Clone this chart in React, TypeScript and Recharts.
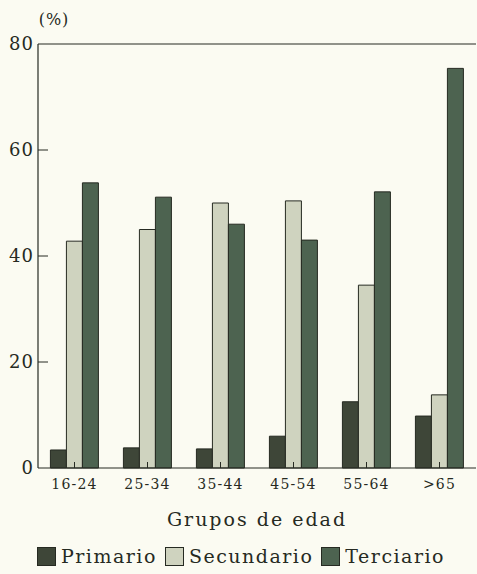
import {
  BarChart,
  Bar,
  XAxis,
  YAxis,
  Legend,
  ReferenceLine,
} from "recharts";

const CATEGORIES = ["16-24", "25-34", "35-44", "45-54", "55-64", ">65"];
const PRIMARIO = [3.4, 3.8, 3.6, 6.0, 12.5, 9.8];
const SECUNDARIO = [42.8, 45.0, 50.0, 50.4, 34.5, 13.8];
const TERCIARIO = [53.8, 51.1, 46.0, 43.0, 52.1, 75.4];
const Y_TICKS = [0, 20, 40, 60, 80];

const SERIES = [
  { key: "primario", name: "Primario", color: "#3e4638" },
  { key: "secundario", name: "Secundario", color: "#cfd3bf" },
  { key: "terciario", name: "Terciario", color: "#4d6350" },
];

const data = CATEGORIES.map((group, i) => ({
  group,
  primario: PRIMARIO[i],
  secundario: SECUNDARIO[i],
  terciario: TERCIARIO[i],
}));

const INK = "#262a22";
const FONT = "'DejaVu Serif', 'Liberation Serif', serif";

function YTick(props: any) {
  const { x, y, payload } = props;
  return (
    <g>
      {payload.value !== 0 && payload.value !== 80 && (
        <line x1={x} y1={y} x2={x + 10} y2={y} stroke={INK} strokeWidth={1} />
      )}
      <text
        x={x - 4}
        y={y}
        dy={6}
        textAnchor="end"
        fill={INK}
        fontSize={18}
        fontFamily={FONT}
        letterSpacing={1}
      >
        {payload.value}
      </text>
    </g>
  );
}

function XTick(props: any) {
  const { x, y, payload } = props;
  return (
    <g>
      <line x1={x} y1={y} x2={x} y2={y - 6} stroke={INK} strokeWidth={1} />
      <text
        x={x}
        y={y + 21}
        textAnchor="middle"
        fill={INK}
        fontSize={14}
        fontFamily={FONT}
        letterSpacing={1.2}
      >
        {payload.value}
      </text>
    </g>
  );
}

function LegendContent() {
  return (
    <div
      style={{
        display: "flex",
        alignItems: "center",
        paddingLeft: 37,
        paddingTop: 7,
        fontFamily: FONT,
        fontSize: 19,
        letterSpacing: 1.5,
        color: INK,
      }}
    >
      {SERIES.map((s) => (
        <span
          key={s.key}
          style={{ display: "flex", alignItems: "center", marginRight: 8 }}
        >
          <span
            style={{
              display: "inline-block",
              width: 17,
              height: 17,
              background: s.color,
              border: `1px solid ${INK}`,
              marginRight: 5,
            }}
          />
          {s.name}
        </span>
      ))}
    </div>
  );
}

export default function App() {
  return (
    <div
      style={{
        position: "absolute",
        left: 0,
        top: 0,
        width: 477,
        height: 574,
        background: "#fbfbf2",
      }}
    >
      <BarChart
        width={477}
        height={574}
        data={data}
        margin={{ top: 44, right: 1, bottom: 0, left: 0 }}
        barCategoryGap="17%"
        barGap={0}
      >
        <XAxis
          dataKey="group"
          height={70}
          tickSize={0}
          tickMargin={0}
          tick={<XTick />}
          axisLine={{ stroke: INK, strokeWidth: 1.2 }}
          tickLine={false}
          label={{
            value: "Grupos de edad",
            position: "insideBottom",
            offset: 12,
            fill: INK,
            fontSize: 19,
            fontFamily: FONT,
            letterSpacing: 2,
          }}
        />
        <YAxis
          width={38}
          domain={[0, 80]}
          ticks={Y_TICKS}
          tickSize={0}
          tickMargin={0}
          tick={<YTick />}
          axisLine={{ stroke: INK, strokeWidth: 1.2 }}
          tickLine={false}
          label={(p: any) => {
            const vb = p.viewBox;
            return (
              <text
                x={vb.x + vb.width + 16}
                y={vb.y - 19}
                textAnchor="middle"
                fill={INK}
                style={{ fontSize: 16, fontFamily: FONT, letterSpacing: 1 }}
              >
                (%)
              </text>
            );
          }}
        />
        <ReferenceLine y={80} stroke={INK} strokeWidth={1.2} />
        {SERIES.map((s) => (
          <Bar
            key={s.key}
            dataKey={s.key}
            name={s.name}
            fill={s.color}
            stroke={INK}
            strokeWidth={1}
            isAnimationActive={false}
          />
        ))}
        <Legend verticalAlign="bottom" height={36} content={<LegendContent />} />
      </BarChart>
    </div>
  );
}
